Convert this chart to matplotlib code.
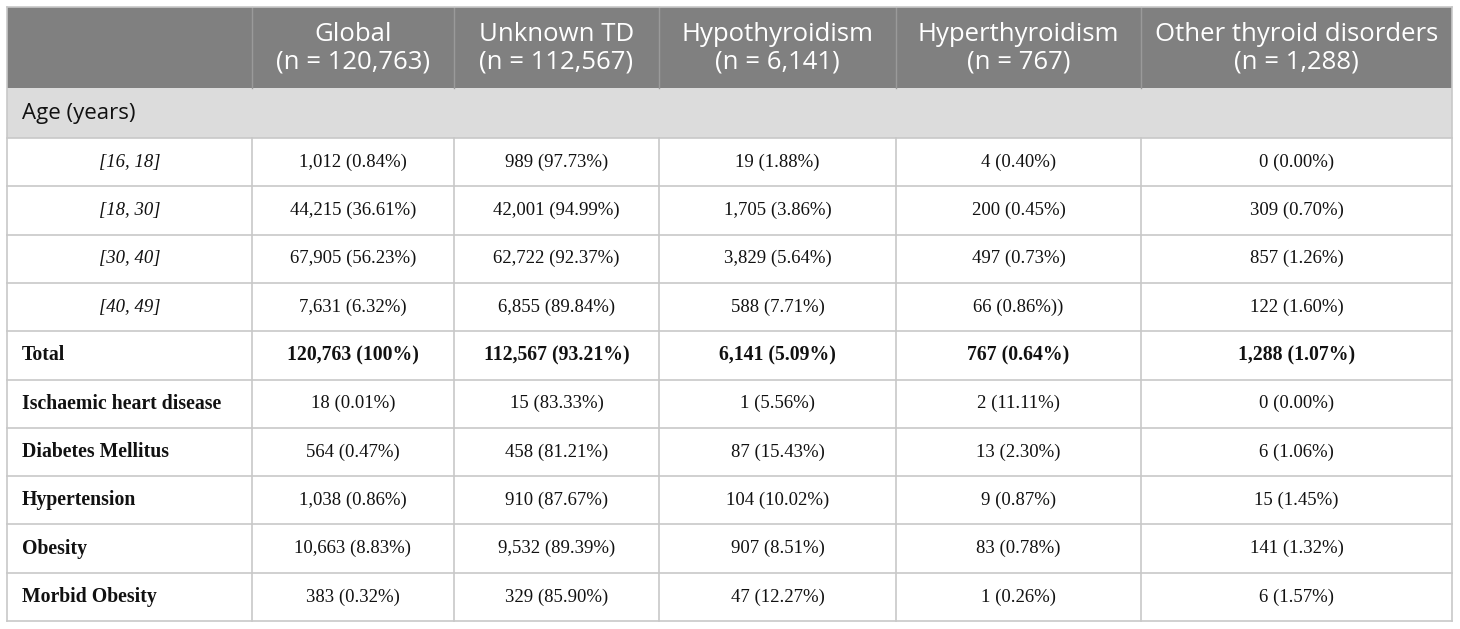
import matplotlib
matplotlib.use("Agg")
import matplotlib.pyplot as plt
from matplotlib.patches import Rectangle

# ---- data ----
columns = ["Global\n(n = 120,763)", "Unknown TD\n(n = 112,567)", "Hypothyroidism\n(n = 6,141)",
           "Hyperthyroidism\n(n = 767)", "Other thyroid disorders\n(n = 1,288)"]
section_label = "Age (years)"
age_labels = ["[16, 18]", "[18, 30]", "[30, 40]", "[40, 49]"]
age_values = [
    ["1,012 (0.84%)", "989 (97.73%)", "19 (1.88%)", "4 (0.40%)", "0 (0.00%)"],
    ["44,215 (36.61%)", "42,001 (94.99%)", "1,705 (3.86%)", "200 (0.45%)", "309 (0.70%)"],
    ["67,905 (56.23%)", "62,722 (92.37%)", "3,829 (5.64%)", "497 (0.73%)", "857 (1.26%)"],
    ["7,631 (6.32%)", "6,855 (89.84%)", "588 (7.71%)", "66 (0.86%))", "122 (1.60%)"],
]
total_label = "Total"
total_values = ["120,763 (100%)", "112,567 (93.21%)", "6,141 (5.09%)", "767 (0.64%)", "1,288 (1.07%)"]
cond_labels = ["Ischaemic heart disease", "Diabetes Mellitus", "Hypertension", "Obesity", "Morbid Obesity"]
cond_values = [
    ["18 (0.01%)", "15 (83.33%)", "1 (5.56%)", "2 (11.11%)", "0 (0.00%)"],
    ["564 (0.47%)", "458 (81.21%)", "87 (15.43%)", "13 (2.30%)", "6 (1.06%)"],
    ["1,038 (0.86%)", "910 (87.67%)", "104 (10.02%)", "9 (0.87%)", "15 (1.45%)"],
    ["10,663 (8.83%)", "9,532 (89.39%)", "907 (8.51%)", "83 (0.78%)", "141 (1.32%)"],
    ["383 (0.32%)", "329 (85.90%)", "47 (12.27%)", "1 (0.26%)", "6 (1.57%)"],
]

# ---- layout (pixels) ----
W, H = 1460, 629
col_edges = [7, 252, 454, 659, 896, 1141, 1452]
header_top, header_bot = 7, 88
section_bot = 138
row_h = (621 - section_bot) / 10.0

HEADER_BG = "#808080"
SECTION_BG = "#dcdcdc"
GRID = "#c8c8c8"
TEXT = "#111111"

fig = plt.figure(figsize=(W / 100, H / 100), dpi=100)
ax = fig.add_axes([0, 0, 1, 1])
ax.set_xlim(0, W)
ax.set_ylim(H, 0)
ax.axis("off")

left, right = col_edges[0], col_edges[-1]

# header
ax.add_patch(Rectangle((left, header_top), right - left, header_bot - header_top,
                       facecolor=HEADER_BG, edgecolor="none"))
for x in col_edges[1:-1]:
    ax.plot([x, x], [header_top, header_bot], color="#9a9a9a", lw=1)
for i, c in enumerate(columns):
    cx = (col_edges[i + 1] + col_edges[i + 2]) / 2
    ax.text(cx, (header_top + header_bot) / 2 + 1, c, ha="center", va="center",
            color="white", fontsize=18.5, family="Open Sans", linespacing=1.12)

# section row
ax.add_patch(Rectangle((left, header_bot), right - left, section_bot - header_bot,
                       facecolor=SECTION_BG, edgecolor="none"))
ax.text(left + 15, (header_bot + section_bot) / 2, section_label, ha="left", va="center",
        color=TEXT, fontsize=16, family="Open Sans")

# body rows
rows = []
for lab, vals in zip(age_labels, age_values):
    rows.append((lab, vals, "italic", "normal", "center"))
rows.append((total_label, total_values, "normal", "bold", "left"))
for lab, vals in zip(cond_labels, cond_values):
    rows.append((lab, vals, "normal", "bold", "left"))

for r, (lab, vals, style, weight, align) in enumerate(rows):
    y0 = section_bot + r * row_h
    yc = y0 + row_h / 2
    lsize = 13.5 if weight == "normal" else 14.2
    if align == "center":
        ax.text((col_edges[0] + col_edges[1]) / 2, yc, lab, ha="center", va="center",
                color=TEXT, fontsize=lsize, family="Liberation Serif", style=style, weight=weight)
    else:
        ax.text(left + 15, yc, lab, ha="left", va="center",
                color=TEXT, fontsize=lsize, family="Liberation Serif", style=style, weight=weight)
    is_total = lab == total_label
    vweight = "bold" if is_total else "normal"
    vsize = 14.2 if is_total else 13.5
    for i, v in enumerate(vals):
        cx = (col_edges[i + 1] + col_edges[i + 2]) / 2
        ax.text(cx, yc, v, ha="center", va="center", color=TEXT, fontsize=vsize,
                family="Liberation Serif", weight=vweight)

# grid lines
for r in range(1, len(rows) + 1):
    y = section_bot + r * row_h
    ax.plot([left, right], [y, y], color=GRID, lw=1.2)
ax.plot([left, right], [section_bot, section_bot], color=GRID, lw=1.2)
for x in col_edges[1:-1]:
    ax.plot([x, x], [section_bot, section_bot + len(rows) * row_h], color=GRID, lw=1.2)
for x in (left, right):
    ax.plot([x, x], [header_top, section_bot + len(rows) * row_h], color=GRID, lw=1.2)
ax.plot([left, right], [header_top, header_top], color=GRID, lw=1.2)

fig.savefig("out.png", dpi=100, facecolor="white")
